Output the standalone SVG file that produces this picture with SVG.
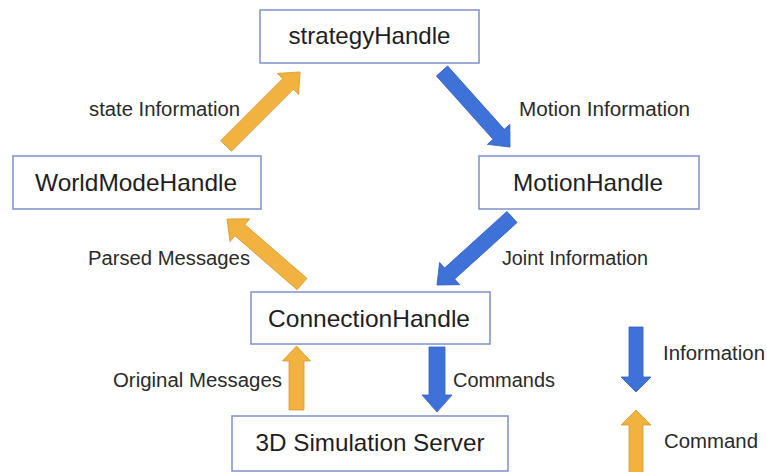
<svg xmlns="http://www.w3.org/2000/svg" width="767" height="472" viewBox="0 0 767 472">
<style>
.box{fill:#ffffff;stroke:#7f8fcc;stroke-width:1.5}
.nt{font-family:"Liberation Sans",Arial,sans-serif;font-size:24px;fill:#1e1e1e;text-anchor:middle}
.lt{font-family:"Liberation Sans",Arial,sans-serif;font-size:20px;fill:#2a2a2a}
.info{fill:#3f72d8;stroke:#3461bd;stroke-width:0.8}
.cmd{fill:#f2b23f;stroke:#d99a2b;stroke-width:0.8}
</style>
<rect width="767" height="472" fill="#ffffff"/>
<g id="strategyHandle">
<rect class="box" x="260" y="10" width="219" height="53"/>
<text class="nt" x="369.5" y="44" textLength="162" lengthAdjust="spacingAndGlyphs">strategyHandle</text>
</g>
<g id="WorldModeHandle">
<rect class="box" x="13" y="156" width="248" height="53"/>
<text class="nt" x="136" y="191" textLength="202" lengthAdjust="spacingAndGlyphs">WorldModeHandle</text>
</g>
<g id="MotionHandle">
<rect class="box" x="479" y="156" width="220" height="53"/>
<text class="nt" x="588" y="191" textLength="150" lengthAdjust="spacingAndGlyphs">MotionHandle</text>
</g>
<g id="ConnectionHandle">
<rect class="box" x="251" y="292" width="239" height="52"/>
<text class="nt" x="369" y="327" textLength="202" lengthAdjust="spacingAndGlyphs">ConnectionHandle</text>
</g>
<g id="SimulationServer">
<rect class="box" x="232" y="416" width="276" height="55"/>
<text class="nt" x="370" y="451" textLength="229" lengthAdjust="spacingAndGlyphs">3D Simulation Server</text>
</g>
<g id="connectors">
<polygon class="cmd" transform="translate(226,146) rotate(-45)" points="0,-7.5 87.7,-7.5 87.7,-15 104.7,0 87.7,15 87.7,7.5 0,7.5"/>
<polygon class="info" transform="translate(442,71) rotate(48.2)" points="0,-7.5 85,-7.5 85,-15 102,0 85,15 85,7.5 0,7.5"/>
<polygon class="info" transform="translate(512,217) rotate(137.8)" points="0,-7.5 84.2,-7.5 84.2,-15 101.2,0 84.2,15 84.2,7.5 0,7.5"/>
<polygon class="cmd" transform="translate(302,284) rotate(-139.1)" points="0,-7.5 82.2,-7.5 82.2,-15 99.2,0 82.2,15 82.2,7.5 0,7.5"/>
<polygon class="cmd" transform="translate(296.5,410) rotate(-90)" points="0,-7.5 49,-7.5 49,-14 64,0 49,14 49,7.5 0,7.5"/>
<polygon class="info" transform="translate(437,347) rotate(90)" points="0,-8 48,-8 48,-15 65,0 48,15 48,8 0,8"/>
<text class="lt" x="89" y="116" textLength="151" lengthAdjust="spacingAndGlyphs">state Information</text>
<text class="lt" x="519" y="116" textLength="171" lengthAdjust="spacingAndGlyphs">Motion Information</text>
<text class="lt" x="88" y="265" textLength="162" lengthAdjust="spacingAndGlyphs">Parsed Messages</text>
<text class="lt" x="502" y="265" textLength="146" lengthAdjust="spacingAndGlyphs">Joint Information</text>
<text class="lt" x="113" y="387" textLength="169" lengthAdjust="spacingAndGlyphs">Original Messages</text>
<text class="lt" x="453" y="387" textLength="102" lengthAdjust="spacingAndGlyphs">Commands</text>
</g>
<g id="legend">
<polygon class="info" transform="translate(636,327) rotate(90)" points="0,-7 50,-7 50,-15 65,0 50,15 50,7 0,7"/>
<text class="lt" x="663" y="360" textLength="102" lengthAdjust="spacingAndGlyphs">Information</text>
<polygon class="cmd" transform="translate(636,480) rotate(-90)" points="0,-7 55,-7 55,-15 70,0 55,15 55,7 0,7"/>
<text class="lt" x="664" y="448" textLength="94" lengthAdjust="spacingAndGlyphs">Command</text>
</g>
</svg>
